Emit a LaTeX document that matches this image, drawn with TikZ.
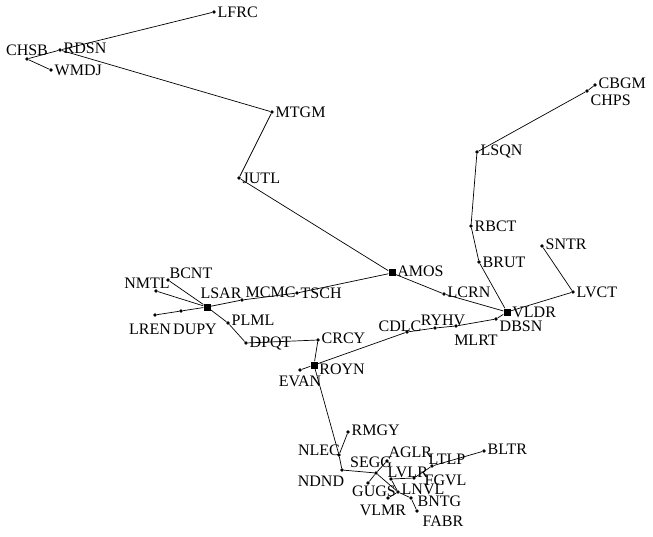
\documentclass[tikz,border=0pt]{standalone}
\usepackage{fontspec}
\setmainfont{Liberation Serif}
\usepackage{tikz}
\usetikzlibrary{positioning}

\tikzset{
  stn/.style={circle, fill=black, inner sep=0pt, minimum size=3.6pt},
  hub/.style={rectangle, fill=black, inner sep=0pt, minimum size=7pt},
  every label/.style={font=\fontsize{16}{18}\selectfont, inner sep=0pt},
  label distance=1.5pt,
  link/.style={line width=0.7pt},
}

\begin{document}
\begin{tikzpicture}[x=1pt, y=-1pt]
  \useasboundingbox (0,0) rectangle (653,537);
  % north-west branch
  \node[stn, label=right:LFRC] (lfrc) at (214,12) {};
  \node[stn, label={[yshift=2pt]right:RDSN}] (rdsn) at (60,50) {};
  \node[stn, label=above:CHSB] (chsb) at (27,59) {};
  \node[stn, label=right:WMDJ] (wmdj) at (51,70) {};
  \node[stn, label=right:MTGM] (mtgm) at (272,112) {};
  \node[stn, label=right:JUTL] (jutl) at (239,178) {};
  \node[hub, label={[yshift=2pt]right:AMOS}] (amos) at (392,273) {};
  \node[stn, label={[yshift=2pt]right:LCRN}] (lcrn) at (444,294) {};
  % west branch
  \node[stn, label=right:TSCH] (tsch) at (297,293) {};
  \node[stn, label={[yshift=8pt]right:MCMC}] (mcmc) at (242,300) {};
  \node[hub, label={[xshift=14pt, label distance=4pt]above:LSAR}] (lsar) at (207,307) {};
  \node[stn, label={[label distance=0pt]above right:BCNT}] (bcnt) at (168,280) {};
  \node[stn, label={[xshift=-9pt, label distance=0pt]above:NMTL}] (nmtl) at (156,291) {};
  \node[stn, label={[xshift=-5pt, label distance=7pt]below:LREN}] (lren) at (155,315) {};
  \node[stn, label={[xshift=14pt, label distance=11pt]below:DUPY}] (dupy) at (181,311) {};
  \node[stn, label={[yshift=3pt]right:PLML}] (plml) at (228,323) {};
  \node[stn, label=right:DPQT] (dpqt) at (246,343) {};
  \node[stn, label={[yshift=2pt]right:CRCY}] (crcy) at (318,340) {};
  \node[hub, label={[yshift=-4pt]right:ROYN}] (royn) at (314,365) {};
  \node[stn, label={[label distance=4pt]below:EVAN}] (evan) at (300,370) {};
  % east branch
  \node[stn, label={[xshift=-7pt, yshift=-2pt, label distance=0pt]above:CDLC}] (cdlc) at (407,332) {};
  \node[stn, label={[xshift=8pt, label distance=0pt]above:RYHV}] (ryhv) at (435,328) {};
  \node[stn, label={[xshift=20pt, label distance=7pt]below:MLRT}] (mlrt) at (456,326) {};
  \node[stn, label={[yshift=-7pt]right:DBSN}] (dbsn) at (496,319) {};
  \node[hub, label=right:VLDR] (vldr) at (507,312) {};
  \node[stn, label=right:BRUT] (brut) at (479,262) {};
  \node[stn, label=right:RBCT] (rbct) at (471,226) {};
  \node[stn, label=right:LSQN] (lsqn) at (477,152) {};
  \node[stn, label={[yshift=-9pt]right:CHPS}] (chps) at (587,91) {};
  \node[stn, label={[yshift=2pt]right:CBGM}] (cbgm) at (595,85) {};
  \node[stn, label={[yshift=2pt]right:SNTR}] (sntr) at (542,246) {};
  \node[stn, label=right:LVCT] (lvct) at (573,292) {};
  % south cluster
  \node[stn, label={[xshift=3pt, yshift=5pt, label distance=0pt]left:NLEC}] (nlec) at (339,455) {};
  \node[stn, label={[yshift=2pt]right:RMGY}] (rmgy) at (348,432) {};
  \node[stn, label={[xshift=-21pt, label distance=4pt]below:NDND}] (ndnd) at (342,470) {};
  \node[stn, label={[xshift=-5pt, label distance=3pt]above:SEGG}] (segg) at (376,473) {};
  \node[stn, label={[yshift=2pt, label distance=0pt]above right:AGLR}] (aglr) at (387,461) {};
  \node[stn, label={[xshift=6pt, label distance=1pt]below:GUGS}] (gugs) at (368,483) {};
  \node[stn, label={[xshift=-5pt, label distance=0pt]above right:LVLR}] (lvlr) at (391,479) {};
  \node[stn, label={[xshift=7pt, yshift=-2pt]right:FGVL}] (fgvl) at (414,478) {};
  \node[stn, label={[xshift=-5pt, label distance=0pt]above right:LTLP}] (ltlp) at (432,466) {};
  \node[stn, label={[yshift=2pt]right:BLTR}] (bltr) at (484,451) {};
  \node[stn, label={[yshift=3pt]right:LNVL}] (lnvl) at (398,492) {};
  \node[stn, label={[xshift=3pt, yshift=-3pt]right:BNTG}] (bntg) at (411,498) {};
  \node[stn, label={[xshift=-5pt, label distance=5pt]below:VLMR}] (vlmr) at (388,498) {};
  \node[stn, label={[xshift=4pt, yshift=-3pt, label distance=0pt]below right:FABR}] (fabr) at (417,511) {};
  % links
  \draw[link] (lfrc) -- (rdsn) -- (chsb) -- (wmdj);
  \draw[link] (rdsn) -- (mtgm) -- (jutl) -- (amos) -- (lcrn) -- (vldr);
  \draw[link] (amos) -- (tsch) -- (mcmc) -- (lsar) -- (dupy) -- (lren);
  \draw[link] (nmtl) -- (lsar) -- (bcnt);
  \draw[link] (lsar) -- (plml) -- (dpqt) -- (crcy) -- (royn) -- (nlec) -- (ndnd) -- (segg) -- (lnvl) -- (bntg) -- (fabr);
  \draw[link] (evan) -- (royn) -- (cdlc) -- (ryhv) -- (mlrt) -- (dbsn) -- (vldr) -- (lvct) -- (sntr);
  \draw[link] (vldr) -- (brut) -- (rbct) -- (lsqn) -- (chps) -- (cbgm);
  \draw[link] (rmgy) -- (nlec);
  \draw[link] (aglr) -- (segg) -- (gugs);
  \draw[link] (vlmr) -- (lnvl) -- (lvlr) -- (fgvl) -- (ltlp) -- (bltr);
\end{tikzpicture}
\end{document}
